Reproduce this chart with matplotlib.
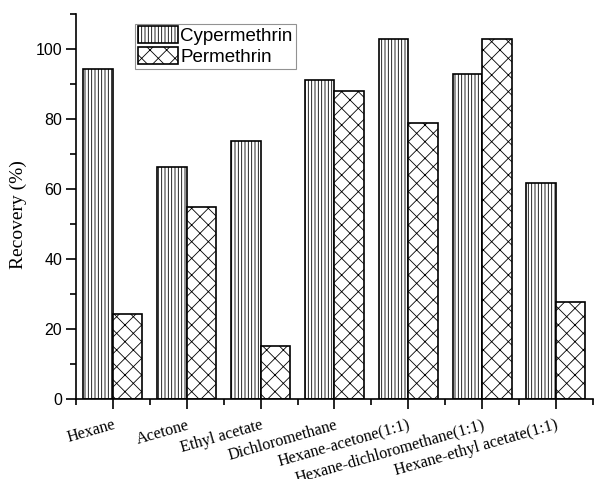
import matplotlib
matplotlib.use("Agg")
import matplotlib.pyplot as plt
import numpy as np
from matplotlib.ticker import MultipleLocator, FixedLocator

categories = ["Hexane", "Acetone", "Ethyl acetate", "Dichloromethane",
              "Hexane-acetone(1:1)", "Hexane-dichloromethane(1:1)",
              "Hexane-ethyl acetate(1:1)"]
cypermethrin = [94.2, 66.2, 73.6, 91.1, 102.9, 92.7, 61.8]
permethrin = [24.2, 54.7, 15.2, 88.0, 78.8, 102.9, 27.6]
series_names = ["Cypermethrin", "Permethrin"]
yticks = [0, 20, 40, 60, 80, 100]

plt.rcParams['hatch.linewidth'] = 0.6
plt.rcParams['hatch.color'] = '#666666'

fig = plt.figure(figsize=(5.94, 4.79), dpi=100)
ax = fig.add_axes([0.128, 0.167, 0.870, 0.804])

x = np.arange(len(categories))
w = 0.4
ax.bar(x - w/2, cypermethrin, width=w, facecolor='white', edgecolor='black',
       linewidth=1.2, hatch='|||||', label=series_names[0])
ax.bar(x + w/2, permethrin, width=w, facecolor='white', edgecolor='black',
       linewidth=1.2, hatch='xx', label=series_names[1])

ax.set_xlim(-0.5, 6.5)
ax.set_ylim(0, 110)
ax.spines['top'].set_visible(False)
ax.spines['right'].set_visible(False)
for s in ['left', 'bottom']:
    ax.spines[s].set_linewidth(1.2)

ax.set_yticks(yticks)
ax.yaxis.set_minor_locator(MultipleLocator(10))
ax.set_xticks(x)
ax.xaxis.set_minor_locator(FixedLocator(np.arange(-0.5, 7, 1.0)))
ax.tick_params(axis='both', which='major', direction='out', length=7, width=1.2)
ax.tick_params(axis='both', which='minor', direction='out', length=4, width=1.2)
ax.tick_params(axis='y', labelsize=11.5, pad=3)
for lab in ax.get_yticklabels():
    lab.set_family('Liberation Sans')

ax.set_xticklabels(categories, rotation=16, ha='right', rotation_mode='anchor',
                   family='Liberation Serif', fontsize=11.7)
ax.tick_params(axis='x', pad=6)

ax.set_ylabel("Recovery (%)", family='Liberation Serif', fontsize=14)
ax.yaxis.set_label_coords(-0.095, 0.48)

leg = ax.legend(loc='upper left', bbox_to_anchor=(0.115, 0.975),
                prop={'family': 'Liberation Sans', 'size': 13.5},
                frameon=True, fancybox=False, edgecolor='#777777', handlelength=2.1,
                handleheight=1.0, handletextpad=0.15, borderpad=0.15, labelspacing=0.1,
                borderaxespad=0)
leg.get_frame().set_linewidth(0.8)

fig.savefig("out.png", dpi=100)
